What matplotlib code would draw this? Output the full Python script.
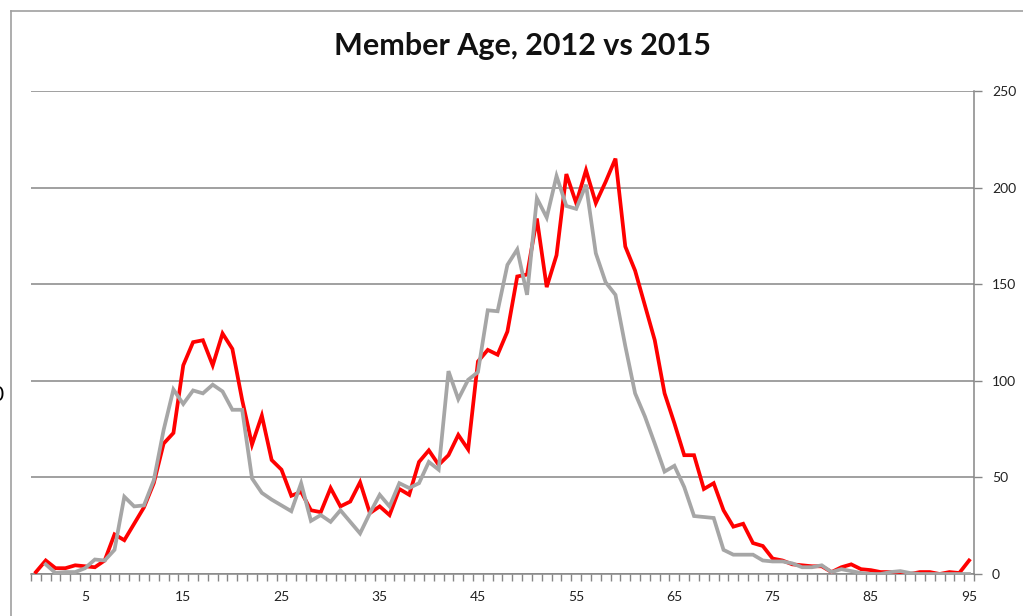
import numpy as np
import matplotlib
matplotlib.use("Agg")
import matplotlib.pyplot as plt
from matplotlib.lines import Line2D
from matplotlib.ticker import FixedLocator

# member counts by age
ages = list(range(96))
members_2012 = [1, 7, 3, 3, 4.5, 4, 3.5, 7, 20.5, 17.5,
                26, 34.5, 47, 67.5, 73, 108, 120, 121, 108, 124.5,
                116.5, 90, 67, 82, 59, 54, 40.5, 42.5, 33, 32,
                44.5, 35, 37.5, 47.5, 31.5, 35, 30.5, 44, 41, 58,
                64, 56.5, 61.5, 72, 64.5, 110, 116, 113.5, 125.5, 154,
                155, 184, 148.5, 165, 207, 192, 209, 192, 203, 215,
                169.5, 157, 139, 121, 93.5, 78, 61.5, 61.5, 44, 47,
                33, 24.5, 26, 16, 14.5, 8, 7, 5, 4.5, 4,
                4, 1, 3.5, 5, 2.5, 2, 1, 1, 0, 0,
                1, 1, 0, 1, 0.5, 7]
members_2015 = [np.nan, 5, 0.5, 1, 1, 3, 7.5, 7, 12.5, 40,
                35, 35.5, 48.5, 74.5, 95.5, 88, 95, 93.5, 98, 94.5,
                85, 85, 49.5, 42, 38.5, 35.5, 32.5, 47, 27.5, 30.5,
                27, 33, 27, 21, 31.5, 41, 35, 47, 44.5, 47,
                58, 54, 105, 90.5, 100.5, 104.5, 136.5, 136, 160, 168,
                144.5, 194.5, 184.5, 206, 190.5, 189, 201.5, 166, 151, 144.5,
                118, 93.5, 81.5, 67.5, 53, 56, 45, 30, 29.5, 29,
                12.5, 10, 10, 10, 7, 6.5, 6.5, 5.5, 3.5, 3.5,
                4.5, 1, 2.5, 1.5, 0.5, 0, 0, 1, 1.5, 0.5,
                0, 0, 0, 0, 0, 0]
x_labels = [5, 15, 25, 35, 45, 55, 65, 75, 85, 95]
y_ticks = [0, 50, 100, 150, 200, 250]

axis_grey = '#868686'
font = ['Lato', 'DejaVu Sans']

fig = plt.figure(figsize=(10.23, 6.16), dpi=100)
ax = fig.add_axes([31 / 1023, 42 / 616, 943 / 1023, 483 / 616])

ax.plot(ages, members_2012, color='#ff0000', linewidth=2.7, solid_joinstyle='miter', zorder=3)
ax.plot(ages, members_2015, color='#a6a6a6', linewidth=2.7, solid_joinstyle='miter', zorder=4)

ax.set_xlim(-0.5, 95.5)
ax.set_ylim(0, 250)

# y axis on the right
ax.yaxis.tick_right()
ax.set_yticks(y_ticks)
ax.yaxis.grid(True, color=axis_grey, linewidth=1.1)
ax.set_axisbelow(True)
ax.tick_params(axis='y', direction='out', length=6, width=1, color=axis_grey, pad=7, labelsize=10)

# x axis: labels on categories, small ticks between categories
ax.set_xticks(x_labels)
ax.xaxis.set_minor_locator(FixedLocator(np.arange(-0.5, 96, 1)))
ax.tick_params(axis='x', which='major', length=0, pad=12, labelsize=10)
ax.tick_params(axis='x', which='minor', direction='out', length=5, width=1, color=axis_grey)

for lbl in ax.get_xticklabels() + ax.get_yticklabels():
    lbl.set_family(font)
    lbl.set_color('#222222')

for side in ['top', 'left']:
    ax.spines[side].set_visible(False)
for side in ['bottom', 'right']:
    ax.spines[side].set_color(axis_grey)
    ax.spines[side].set_linewidth(1.1)

fig.text(522 / 1023, 1 - 46 / 616, 'Member Age, 2012 vs 2015', ha='center', va='center',
         fontsize=22, fontweight='bold', family=font, color='#111111')

# outer chart border (cropped on right and bottom)
fig.add_artist(Line2D([11 / 1023, 11 / 1023], [0, 1 - 11 / 616], transform=fig.transFigure,
                      color='#a0a0a0', linewidth=1.2))
fig.add_artist(Line2D([11 / 1023, 1], [1 - 11 / 616, 1 - 11 / 616], transform=fig.transFigure,
                      color='#a0a0a0', linewidth=1.2))

# cut-off glyph at the left edge, as in the source image
fig.text(-3 / 1023, 1 - 395 / 616, '0', ha='center', va='center', fontsize=15, family=font, color='black')

fig.savefig('out.png', dpi=100)
